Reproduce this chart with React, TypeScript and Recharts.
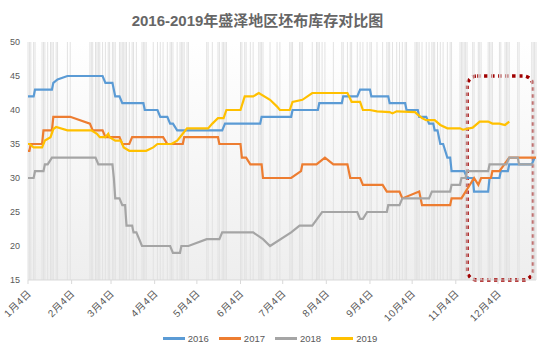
import { LineChart, Line, XAxis, YAxis, ReferenceLine, ReferenceArea } from 'recharts';

const title = '2016-2019年盛泽地区坯布库存对比图';

// x is day of year, ticks sit on the 4th of each month
const monthTicks = [4, 35, 63, 94, 124, 155, 185, 216, 247, 277, 308, 338];
const monthLabels = ['1月4日', '2月4日', '3月4日', '4月4日', '5月4日', '6月4日', '7月4日', '8月4日', '9月4日', '10月4日', '11月4日', '12月4日'];
const yTicks = [15, 20, 25, 30, 35, 40, 45, 50];

// [day, stock]
const s2016: [number, number][] = [
  [4, 42], [8, 42], [9, 43], [21, 43], [22, 44], [25, 44.5], [32, 45], [57, 45], [59, 44], [64, 44],
  [66, 42], [69, 42], [71, 41], [86, 41], [87, 40], [96, 40], [98, 39], [103, 39], [105, 38], [107, 38],
  [110, 37], [142, 37], [144, 38], [169, 38], [170, 39], [191, 39], [192, 40], [210, 40], [211, 41], [227, 41],
  [228, 42], [238, 42], [240, 43], [247, 43], [248, 42], [260, 42], [261, 41], [272, 41], [273, 40], [281, 40],
  [282, 39], [287, 39], [289, 38], [292, 38], [293, 37], [295, 37], [297, 35], [299, 35], [302, 33], [304, 33],
  [305, 31], [314, 31], [316, 30], [320, 30], [321, 28], [331, 28], [332, 30], [339, 30], [340, 31], [345, 31],
  [346, 32], [362, 32], [364, 33],
];

const s2017: [number, number][] = [
  [4, 34], [5, 34], [6, 35], [14, 35], [15, 37], [21, 37], [22, 39], [34, 39], [48, 38], [50, 37],
  [57, 37], [59, 36], [69, 36], [71, 35], [76, 35], [78, 36], [100, 36], [103, 35], [114, 35], [115, 36],
  [139, 36], [140, 35], [155, 35], [156, 33], [159, 33], [162, 32], [170, 32], [171, 30], [191, 30], [198, 31],
  [199, 32], [209, 32], [215, 33], [221, 32], [231, 32], [233, 30], [240, 30], [242, 29], [256, 29], [259, 28],
  [268, 28], [270, 27], [282, 28], [284, 26], [304, 26], [305, 27], [312, 27], [321, 30], [324, 29], [326, 30],
  [333, 30], [334, 31], [339, 31], [346, 33], [365, 33],
];

const s2018: [number, number][] = [
  [4, 30], [8, 30], [9, 31], [15, 31], [16, 32], [18, 32], [21, 33], [52, 33], [54, 32], [64, 32],
  [65, 30], [66, 27], [69, 27], [71, 26], [73, 26], [74, 23], [78, 23], [79, 22], [81, 22], [85, 20],
  [105, 20], [107, 19], [112, 19], [113, 20], [118, 20], [131, 21], [140, 21], [142, 22], [164, 22], [171, 21],
  [176, 20], [191, 22], [197, 23], [206, 23], [213, 25], [238, 25], [240, 24], [242, 24], [245, 25], [259, 25],
  [260, 26], [268, 26], [270, 27], [289, 27], [291, 28], [304, 28], [305, 29], [311, 29], [312, 30], [315, 30],
  [316, 31], [331, 31], [332, 32], [344, 32], [346, 33], [352, 33], [353, 32], [363, 32],
];

const s2019: [number, number][] = [
  [4, 35], [5, 35], [8, 34.5], [14, 34.5], [16, 35.5], [20, 36], [22, 37.2], [24, 37.5], [32, 37], [49, 37],
  [53, 36.5], [55, 36], [59, 36], [61, 36.5], [62, 36], [66, 35.5], [70, 35.5], [72, 34.5], [76, 34], [88, 34],
  [93, 34.5], [96, 35], [106, 35], [110, 35.5], [112, 36], [117, 37.3], [132, 37.3], [135, 38], [139, 38.8], [143, 38.8],
  [145, 40], [155, 40], [158, 42], [164, 42], [168, 42.5], [176, 41.5], [181, 40.5], [183, 40], [190, 40], [192, 41.2],
  [199, 41.5], [206, 42.5], [231, 42.5], [234, 41.2], [240, 41.2], [242, 40], [247, 40], [252, 39.8], [261, 39.7], [263, 39.5],
  [266, 39.8], [279, 39.7], [280, 39.5], [284, 38.8], [287, 38.5], [293, 38.5], [297, 37.8], [302, 37.3], [311, 37.3], [313, 37.1],
  [320, 37.4], [325, 38.3], [331, 38.3], [334, 38], [339, 38], [343, 37.8], [346, 38.3],
];

const series = [
  { name: '2016', color: '#5b9bd5', data: s2016 },
  { name: '2017', color: '#ed7d31', data: s2017 },
  { name: '2018', color: '#a5a5a5', data: s2018 },
  { name: '2019', color: '#ffc000', data: s2019 },
];

const gridDays = Array.from(new Set(series.flatMap((s) => s.data.map((p) => p[0])))).sort((a, b) => a - b);

const font = '"Liberation Sans", "Noto Sans CJK SC", sans-serif';

function MonthTick({ x, y, payload }: any) {
  const label = monthLabels[monthTicks.indexOf(payload.value)];
  return (
    <text
      x={x + 4}
      y={y + 6}
      transform={`rotate(-45 ${x + 4} ${y + 6})`}
      textAnchor="end"
      fontSize={10}
      letterSpacing={0.6}
      fill="#595959"
      fontFamily={font}
    >
      {label}
    </text>
  );
}

function DottedBox(p: any) {
  return (
    <rect
      x={p.x}
      y={p.y}
      width={p.width}
      height={p.height}
      rx={10}
      fill="none"
      stroke="#a00000"
      strokeWidth={3.5}
      strokeDasharray="3.5 3.5"
    />
  );
}

export default function App() {
  return (
    <div style={{ position: 'absolute', left: 0, top: 0, width: 547, height: 351, background: '#fff', fontFamily: font }}>
      <div
        style={{
          position: 'absolute',
          left: 28,
          top: 42,
          width: 508,
          height: 238,
          background: 'linear-gradient(#ffffff, #eeeeee)',
        }}
      />
      <div
        style={{
          position: 'absolute',
          left: 0,
          top: 9,
          width: 515,
          textAlign: 'center',
          fontSize: 15,
          fontWeight: 'bold',
          color: '#666',
        }}
      >
        {title}
      </div>
      <div style={{ position: 'absolute', left: 0, top: 0 }}>
        <LineChart width={547} height={351} margin={{ top: 42, right: 11, bottom: 41, left: 0 }}>
          <XAxis
            dataKey="d"
            type="number"
            domain={[4, 365]}
            ticks={monthTicks}
            tick={<MonthTick />}
            axisLine={{ stroke: '#d9d9d9' }}
            tickLine={{ stroke: '#d9d9d9' }}
            tickSize={4}
            tickMargin={4}
            height={30}
            allowDataOverflow
          />
          <YAxis
            domain={[15, 50]}
            ticks={yTicks}
            axisLine={false}
            tickLine={false}
            width={28}
            tick={{ fontSize: 9, fill: '#595959', fontFamily: font }}
          />
          {gridDays.map((d) => (
            <ReferenceLine key={d} x={d} stroke="#e2e2e2" strokeWidth={1} />
          ))}
          {series.map((s) => (
            <Line
              key={s.name}
              data={s.data.map(([d, v]) => ({ d, v }))}
              dataKey="v"
              name={s.name}
              type="linear"
              stroke={s.color}
              strokeWidth={2.2}
              dot={false}
              isAnimationActive={false}
            />
          ))}
          <ReferenceArea x1={316} x2={363} y1={15} y2={45} shape={DottedBox} />
        </LineChart>
      </div>
      <div
        style={{
          position: 'absolute',
          left: 0,
          top: 333,
          width: 540,
          display: 'flex',
          justifyContent: 'center',
          gap: 10,
          fontSize: 9.5,
          color: '#595959',
        }}
      >
        {series.map((s) => (
          <div key={s.name} style={{ display: 'flex', alignItems: 'center', gap: 3 }}>
            <span style={{ display: 'inline-block', width: 22, height: 2.5, background: s.color }} />
            <span>{s.name}</span>
          </div>
        ))}
      </div>
    </div>
  );
}
